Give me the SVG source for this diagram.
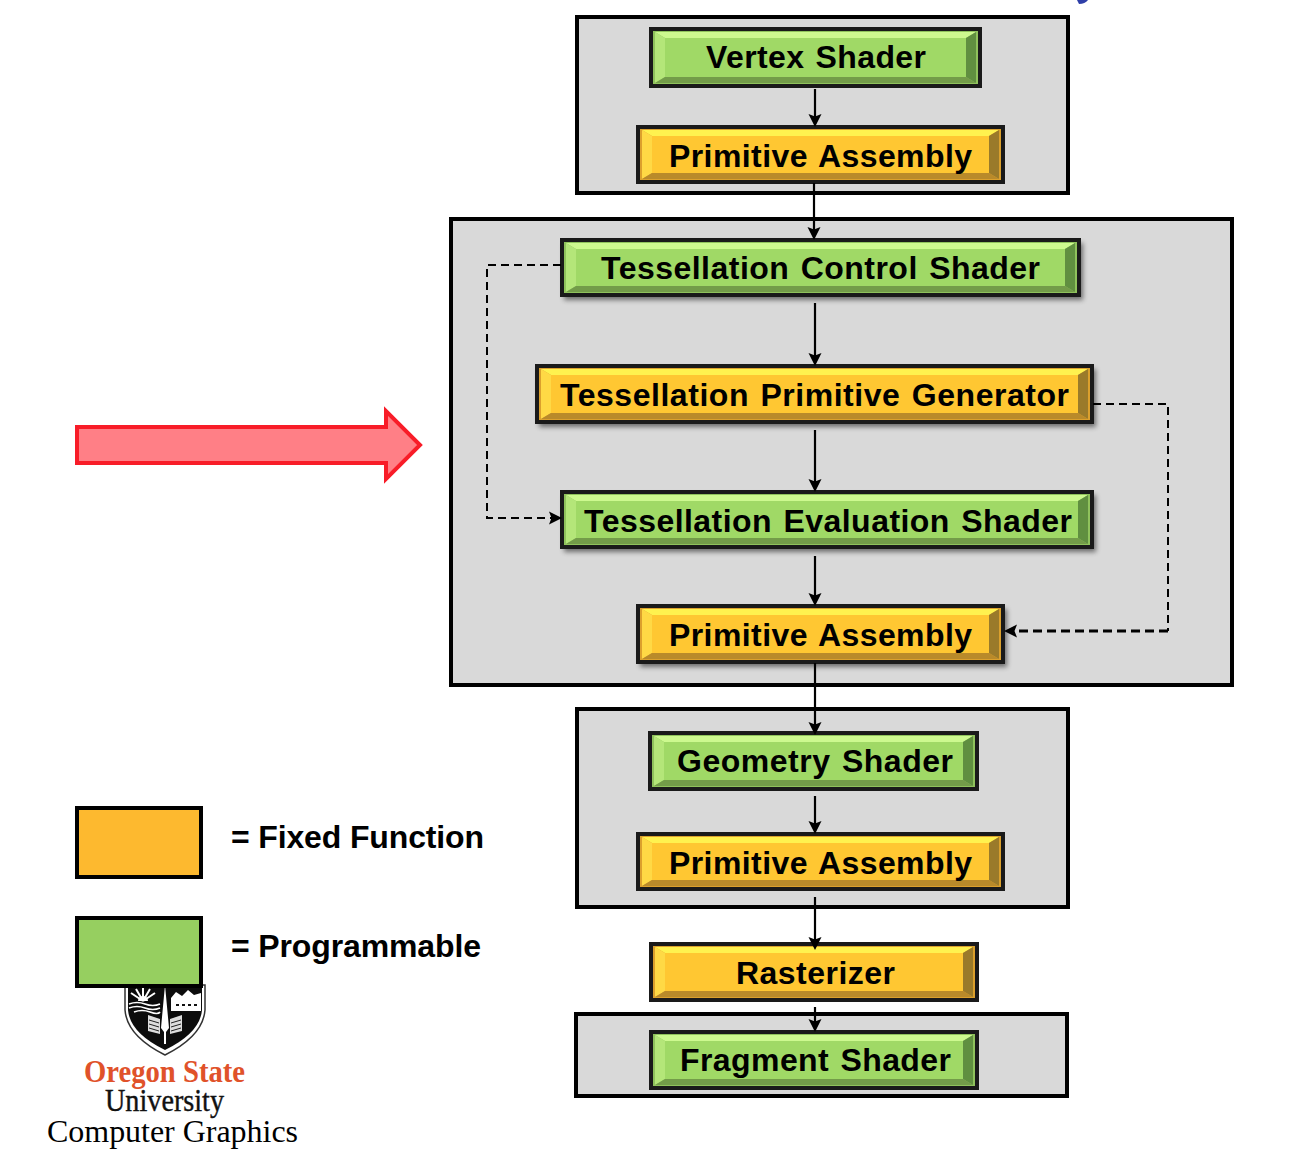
<svg xmlns="http://www.w3.org/2000/svg" width="1298" height="1162" viewBox="0 0 1298 1162">
<style>
.box{fill:#d9d9d9;stroke:#000;stroke-width:4}
.border{fill:#1a1a1a;stroke:#1a1a1a;stroke-width:2}
.shadow{fill:#000;opacity:.5;filter:url(#blur)}
.t,.l,.r,.b,.f{filter:url(#soft)}
.g .rim{fill:#8fc25c}.g .t{fill:#cdf98f}.g .l{fill:#b4e679}.g .r{fill:#618f41}.g .b{fill:#739c49}.g .f{fill:#a0d966}
.y .rim{fill:#dba02d}.y .t{fill:#fff24f}.y .l{fill:#ffd945}.y .r{fill:#9a7a2b}.y .b{fill:#b98a2b}.y .f{fill:#ffc733}
.lbl{font-family:"Liberation Sans",Arial,sans-serif;font-weight:700;font-size:32px;word-spacing:2px;fill:#000}
.leg{font-family:"Liberation Sans",Arial,sans-serif;font-weight:700;font-size:32px;fill:#000}
.ser{font-family:"Liberation Serif","Times New Roman",serif}
.c{fill:none;stroke:#000;stroke-width:2.2}
.d{fill:none;stroke:#000;stroke-width:2;stroke-dasharray:8 5}
.d2{fill:none;stroke:#000;stroke-width:3;stroke-dasharray:9 5}
</style>
<defs>
<filter id="blur" x="-5%" y="-20%" width="110%" height="140%"><feGaussianBlur stdDeviation="2.5"/></filter>
<filter id="soft" x="-2%" y="-10%" width="104%" height="120%"><feGaussianBlur stdDeviation="0.7"/></filter>
<marker id="ah" markerUnits="userSpaceOnUse" markerWidth="15" markerHeight="15" refX="6" refY="7" orient="auto"><path d="M0,0.5 L2.5,7 L0,13.5 L13,7 Z" fill="#000"/></marker>
</defs>

<path d="M1077,0 L1088,0 Q1085,4 1079,4 Z" fill="#2f3fa8"/>

<g id="stage-1"><rect class="box" x="577" y="17" width="491" height="176"/></g>
<g id="stage-2"><rect class="box" x="451" y="219" width="781" height="466"/></g>
<g id="stage-3"><rect class="box" x="577" y="709" width="491" height="198"/></g>
<g id="stage-4"><rect class="box" x="576" y="1014" width="491" height="82"/></g>

<g id="vertex-shader" class="g"><rect class="border" x="650" y="28" width="331" height="59"/><rect class="rim" x="653" y="31" width="325" height="53"/><polygon class="t" points="655,32 976,32 966,38 665,38"/><polygon class="l" points="655,32 665,38 665,77 655,83"/><polygon class="r" points="976,32 966,38 966,77 976,83"/><polygon class="b" points="655,83 665,77 966,77 976,83"/><rect class="f" x="665" y="38" width="301" height="39"/><text class="lbl" x="706" y="68" textLength="220">Vertex Shader</text></g>

<g id="primitive-assembly-1" class="y"><rect class="border" x="637" y="126" width="367" height="57"/><rect class="rim" x="640" y="129" width="361" height="51"/><polygon class="t" points="642,130 999,130 989,136 652,136"/><polygon class="l" points="642,130 652,136 652,173 642,179"/><polygon class="r" points="999,130 989,136 989,173 999,179"/><polygon class="b" points="642,179 652,173 989,173 999,179"/><rect class="f" x="652" y="136" width="337" height="37"/><text class="lbl" x="669" y="167" textLength="303">Primitive Assembly</text></g>

<g id="tess-control" class="g"><rect class="shadow" x="564" y="243" width="519" height="57"/><rect class="border" x="561" y="239" width="519" height="57"/><rect class="rim" x="564" y="242" width="513" height="51"/><polygon class="t" points="566,243 1075,243 1065,249 576,249"/><polygon class="l" points="566,243 576,249 576,286 566,292"/><polygon class="r" points="1075,243 1065,249 1065,286 1075,292"/><polygon class="b" points="566,292 576,286 1065,286 1075,292"/><rect class="f" x="576" y="249" width="489" height="37"/><text class="lbl" x="601" y="279" textLength="439">Tessellation Control Shader</text></g>

<g id="tess-primitive-generator" class="y"><rect class="shadow" x="539" y="369" width="557" height="58"/><rect class="border" x="536" y="365" width="557" height="58"/><rect class="rim" x="539" y="368" width="551" height="52"/><polygon class="t" points="541,369 1088,369 1078,375 551,375"/><polygon class="l" points="541,369 551,375 551,413 541,419"/><polygon class="r" points="1088,369 1078,375 1078,413 1088,419"/><polygon class="b" points="541,419 551,413 1078,413 1088,419"/><rect class="f" x="551" y="375" width="527" height="38"/><text class="lbl" x="560" y="406" textLength="509">Tessellation Primitive Generator</text></g>

<g id="tess-evaluation" class="g"><rect class="shadow" x="564" y="495" width="532" height="57"/><rect class="border" x="561" y="491" width="532" height="57"/><rect class="rim" x="564" y="494" width="526" height="51"/><polygon class="t" points="566,495 1088,495 1078,501 576,501"/><polygon class="l" points="566,495 576,501 576,538 566,544"/><polygon class="r" points="1088,495 1078,501 1078,538 1088,544"/><polygon class="b" points="566,544 576,538 1078,538 1088,544"/><rect class="f" x="576" y="501" width="502" height="37"/><text class="lbl" x="584" y="532" textLength="488">Tessellation Evaluation Shader</text></g>

<g id="primitive-assembly-2" class="y"><rect class="shadow" x="640" y="609" width="367" height="58"/><rect class="border" x="637" y="605" width="367" height="58"/><rect class="rim" x="640" y="608" width="361" height="52"/><polygon class="t" points="642,609 999,609 989,615 652,615"/><polygon class="l" points="642,609 652,615 652,653 642,659"/><polygon class="r" points="999,609 989,615 989,653 999,659"/><polygon class="b" points="642,659 652,653 989,653 999,659"/><rect class="f" x="652" y="615" width="337" height="38"/><text class="lbl" x="669" y="646" textLength="303">Primitive Assembly</text></g>

<g id="geometry-shader" class="g"><rect class="border" x="649" y="732" width="329" height="58"/><rect class="rim" x="652" y="735" width="323" height="52"/><polygon class="t" points="654,736 973,736 963,742 664,742"/><polygon class="l" points="654,736 664,742 664,780 654,786"/><polygon class="r" points="973,736 963,742 963,780 973,786"/><polygon class="b" points="654,786 664,780 963,780 973,786"/><rect class="f" x="664" y="742" width="299" height="38"/><text class="lbl" x="677" y="772" textLength="276">Geometry Shader</text></g>

<g id="primitive-assembly-3" class="y"><rect class="border" x="637" y="833" width="367" height="57"/><rect class="rim" x="640" y="836" width="361" height="51"/><polygon class="t" points="642,837 999,837 989,843 652,843"/><polygon class="l" points="642,837 652,843 652,880 642,886"/><polygon class="r" points="999,837 989,843 989,880 999,886"/><polygon class="b" points="642,886 652,880 989,880 999,886"/><rect class="f" x="652" y="843" width="337" height="37"/><text class="lbl" x="669" y="874" textLength="303">Primitive Assembly</text></g>

<g id="rasterizer" class="y"><rect class="border" x="650" y="943" width="328" height="58"/><rect class="rim" x="653" y="946" width="322" height="52"/><polygon class="t" points="655,947 973,947 963,953 665,953"/><polygon class="l" points="655,947 665,953 665,991 655,997"/><polygon class="r" points="973,947 963,953 963,991 973,997"/><polygon class="b" points="655,997 665,991 963,991 973,997"/><rect class="f" x="665" y="953" width="298" height="38"/><text class="lbl" x="736" y="984" textLength="159">Rasterizer</text></g>

<g id="fragment-shader" class="g"><rect class="border" x="650" y="1031" width="328" height="58"/><rect class="rim" x="653" y="1034" width="322" height="52"/><polygon class="t" points="655,1035 973,1035 963,1041 665,1041"/><polygon class="l" points="655,1035 665,1041 665,1079 655,1085"/><polygon class="r" points="973,1035 963,1041 963,1079 973,1085"/><polygon class="b" points="655,1085 665,1079 963,1079 973,1085"/><rect class="f" x="665" y="1041" width="298" height="38"/><text class="lbl" x="680" y="1071" textLength="271">Fragment Shader</text></g>

<g id="connectors">
<path class="c" d="M815,89V120" marker-end="url(#ah)"/>
<path class="c" d="M814,183V233" marker-end="url(#ah)"/>
<path class="c" d="M815,303V359" marker-end="url(#ah)"/>
<path class="c" d="M815,430V485" marker-end="url(#ah)"/>
<path class="c" d="M815,556V599" marker-end="url(#ah)"/>
<path class="c" d="M815,663V728" marker-end="url(#ah)"/>
<path class="c" d="M815,796V827" marker-end="url(#ah)"/>
<path class="c" d="M815,897V943" marker-end="url(#ah)"/>
<path class="c" d="M815,1007V1025" marker-end="url(#ah)"/>
<path class="d" d="M561,265H487V518H555" marker-end="url(#ah)"/>
<path class="d" d="M1093,404H1168V631"/>
<path class="d2" d="M1168,631H1011" marker-end="url(#ah)"/>
</g>

<g id="callout-arrow"><polygon points="77,427 386,427 386,411 420,445 386,479 386,463 77,463" fill="#ff7f86" stroke="#f81c28" stroke-width="4"/></g>

<g id="osu-logo">
<path d="M125,985V1010Q127,1036 165,1055Q203,1036 205,1010V985Z" fill="#fff" stroke="#333" stroke-width="1.5"/>
<path d="M128,985V1010Q130,1033 165,1050Q200,1033 202,1010V985Z" fill="#0c0c0c"/>
<path d="M143,1001L131,993M143,1001L136,989M143,1001V987M143,1001L150,989M143,1001L155,993" stroke="#fff" stroke-width="2"/>
<path d="M138,1001A5,5 0 0 1 148,1001Z" fill="#fff"/>
<path d="M129,1004Q137,1001 145,1004T160,1004M129,1008Q137,1005 145,1008T160,1008M134,1012Q142,1009 150,1012T160,1012" fill="none" stroke="#fff" stroke-width="1.6"/>
<path d="M171,998L176,992L182,996L188,990L194,995L201,993V1011H171Z" fill="#fff"/>
<path d="M176,1005h3M182,1005h3M188,1005h3M194,1005h3" stroke="#111" stroke-width="2"/>
<path d="M165,985L169,1028L166,1032V1044H164V1032L161,1028Z" fill="#fff"/>
<path d="M148,1015L160,1019V1034L148,1031ZM170,1019L182,1015V1031L170,1034Z" fill="#ddd"/>
<path d="M149,1020L159,1023M149,1024L159,1027M149,1028L159,1031M171,1023L181,1020M171,1027L181,1024M171,1031L181,1028" stroke="#222" stroke-width="1"/>
<text class="ser" x="84" y="1082" font-size="32" font-weight="700" fill="#e0522a" textLength="161" lengthAdjust="spacingAndGlyphs">Oregon State</text>
<text class="ser" x="105" y="1111" font-size="32" fill="#111" stroke="#111" stroke-width="0.4" textLength="119" lengthAdjust="spacingAndGlyphs">University</text>
</g>

<g id="legend-fixed"><rect x="77" y="808" width="124" height="69" fill="#fdb92f" stroke="#000" stroke-width="4"/><text class="leg" x="231" y="848" textLength="253">= Fixed Function</text></g>
<g id="legend-programmable"><rect x="77" y="918" width="124" height="68" fill="#96cf60" stroke="#000" stroke-width="4"/><text class="leg" x="231" y="957" textLength="250">= Programmable</text></g>
<text class="ser" x="47" y="1142" font-size="32" fill="#000" textLength="251">Computer Graphics</text>
</svg>
